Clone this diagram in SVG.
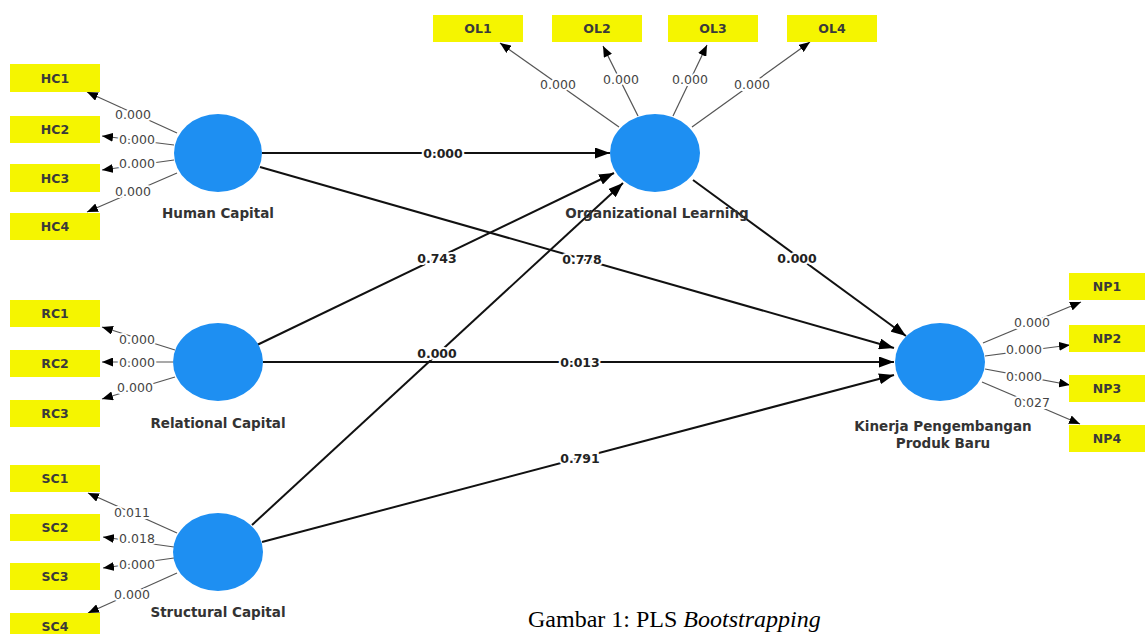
<svg xmlns="http://www.w3.org/2000/svg" width="1147" height="634" viewBox="0 0 1147 634">
<style>
.box{fill:#f5f500}
.bt{font-family:"DejaVu Sans",sans-serif;font-weight:bold;font-size:12.5px;fill:#3a3a3a;text-anchor:middle}
.lv{fill:#1e8ff2}
.nl{font-family:"DejaVu Sans",sans-serif;font-weight:bold;font-size:13.5px;fill:#333;text-anchor:middle}
.ol{stroke:#555;stroke-width:1.2;fill:none}
.il{stroke:#111;stroke-width:2;fill:none}
.ov{font-family:"DejaVu Sans",sans-serif;font-size:12.5px;fill:#444;text-anchor:middle;stroke:#fff;stroke-width:4;paint-order:stroke}
.iv{font-family:"DejaVu Sans",sans-serif;font-weight:bold;font-size:12.5px;fill:#222;text-anchor:middle;stroke:#fff;stroke-width:4;paint-order:stroke}
.cap{font-family:"Liberation Serif",serif;font-size:24px;fill:#000}
</style>
<defs>
<marker id="a1" markerUnits="userSpaceOnUse" markerWidth="11" markerHeight="9" refX="11" refY="4.5" orient="auto"><path d="M0,0 L11,4.5 L0,9 z" fill="#000"/></marker>
<marker id="a2" markerUnits="userSpaceOnUse" markerWidth="15" markerHeight="11" refX="15" refY="5.5" orient="auto"><path d="M0,0 L15,5.5 L0,11 z" fill="#000"/></marker>
</defs>

<g id="connectors">
<line class="ol" x1="177" y1="133" x2="87" y2="92" marker-end="url(#a1)"/>
<line class="ol" x1="174" y1="145" x2="102" y2="136" marker-end="url(#a1)"/>
<line class="ol" x1="174" y1="160" x2="102" y2="170" marker-end="url(#a1)"/>
<line class="ol" x1="177" y1="173" x2="87" y2="212" marker-end="url(#a1)"/>
<line class="ol" x1="175" y1="350" x2="102" y2="327" marker-end="url(#a1)"/>
<line class="ol" x1="173" y1="362" x2="102" y2="362" marker-end="url(#a1)"/>
<line class="ol" x1="175" y1="377" x2="102" y2="399" marker-end="url(#a1)"/>
<line class="ol" x1="177" y1="533" x2="88" y2="493" marker-end="url(#a1)"/>
<line class="ol" x1="174" y1="547" x2="103" y2="537" marker-end="url(#a1)"/>
<line class="ol" x1="174" y1="558" x2="103" y2="568" marker-end="url(#a1)"/>
<line class="ol" x1="177" y1="573" x2="88" y2="613" marker-end="url(#a1)"/>
<line class="ol" x1="619" y1="127" x2="500" y2="43" marker-end="url(#a1)"/>
<line class="ol" x1="638" y1="116" x2="603" y2="46" marker-end="url(#a1)"/>
<line class="ol" x1="673" y1="116" x2="707" y2="45" marker-end="url(#a1)"/>
<line class="ol" x1="692" y1="127" x2="810" y2="42" marker-end="url(#a1)"/>
<line class="ol" x1="983" y1="343" x2="1081" y2="302" marker-end="url(#a1)"/>
<line class="ol" x1="985" y1="356" x2="1070" y2="345" marker-end="url(#a1)"/>
<line class="ol" x1="985" y1="369" x2="1070" y2="385" marker-end="url(#a1)"/>
<line class="ol" x1="982" y1="382" x2="1080" y2="424" marker-end="url(#a1)"/>
<line class="il" x1="262" y1="153" x2="610" y2="153" marker-end="url(#a2)"/>
<line class="il" x1="260" y1="167" x2="894" y2="348" marker-end="url(#a2)"/>
<line class="il" x1="257" y1="345" x2="614" y2="173" marker-end="url(#a2)"/>
<line class="il" x1="252" y1="525" x2="623" y2="183" marker-end="url(#a2)"/>
<line class="il" x1="263" y1="362" x2="894" y2="362" marker-end="url(#a2)"/>
<line class="il" x1="262" y1="542" x2="894" y2="375" marker-end="url(#a2)"/>
<line class="il" x1="693" y1="180" x2="906" y2="336" marker-end="url(#a2)"/>
<text class="ov" x="133" y="119">0.000</text>
<text class="ov" x="137" y="144">0.000</text>
<text class="ov" x="137" y="168">0.000</text>
<text class="ov" x="133" y="196">0.000</text>
<text class="ov" x="137" y="344">0.000</text>
<text class="ov" x="137" y="367">0.000</text>
<text class="ov" x="135" y="392">0.000</text>
<text class="ov" x="132" y="517">0.011</text>
<text class="ov" x="137" y="543">0.018</text>
<text class="ov" x="137" y="569">0.000</text>
<text class="ov" x="132" y="599">0.000</text>
<text class="ov" x="558" y="89">0.000</text>
<text class="ov" x="621" y="84">0.000</text>
<text class="ov" x="690" y="84">0.000</text>
<text class="ov" x="752" y="89">0.000</text>
<text class="ov" x="1032" y="327">0.000</text>
<text class="ov" x="1024" y="354">0.000</text>
<text class="ov" x="1024" y="381">0.000</text>
<text class="ov" x="1032" y="407">0.027</text>
<text class="iv" x="443" y="158">0.000</text>
<text class="iv" x="582" y="264">0.778</text>
<text class="iv" x="437" y="263">0.743</text>
<text class="iv" x="437" y="358">0.000</text>
<text class="iv" x="580" y="367">0.013</text>
<text class="iv" x="580" y="463">0.791</text>
<text class="iv" x="797" y="263">0.000</text>
</g>

<g id="HC1"><rect class="box" x="10" y="64" width="90" height="28"/><text class="bt" x="55" y="83">HC1</text></g>
<g id="HC2"><rect class="box" x="10" y="116" width="90" height="27"/><text class="bt" x="55" y="134">HC2</text></g>
<g id="HC3"><rect class="box" x="10" y="164" width="90" height="28"/><text class="bt" x="55" y="183">HC3</text></g>
<g id="HC4"><rect class="box" x="10" y="213" width="90" height="27"/><text class="bt" x="55" y="231">HC4</text></g>
<g id="RC1"><rect class="box" x="10" y="300" width="90" height="27"/><text class="bt" x="55" y="318">RC1</text></g>
<g id="RC2"><rect class="box" x="10" y="350" width="90" height="27"/><text class="bt" x="55" y="368">RC2</text></g>
<g id="RC3"><rect class="box" x="10" y="400" width="90" height="27"/><text class="bt" x="55" y="418">RC3</text></g>
<g id="SC1"><rect class="box" x="10" y="465" width="90" height="27"/><text class="bt" x="55" y="483">SC1</text></g>
<g id="SC2"><rect class="box" x="10" y="514" width="90" height="27"/><text class="bt" x="55" y="532">SC2</text></g>
<g id="SC3"><rect class="box" x="10" y="563" width="90" height="27"/><text class="bt" x="55" y="581">SC3</text></g>
<g id="SC4"><rect class="box" x="10" y="613" width="90" height="27"/><text class="bt" x="55" y="631">SC4</text></g>
<g id="OL1"><rect class="box" x="433" y="15" width="90" height="27"/><text class="bt" x="478" y="33">OL1</text></g>
<g id="OL2"><rect class="box" x="552" y="15" width="90" height="27"/><text class="bt" x="597" y="33">OL2</text></g>
<g id="OL3"><rect class="box" x="668" y="15" width="90" height="27"/><text class="bt" x="713" y="33">OL3</text></g>
<g id="OL4"><rect class="box" x="787" y="15" width="90" height="27"/><text class="bt" x="832" y="33">OL4</text></g>
<g id="NP1"><rect class="box" x="1069" y="273" width="76" height="27"/><text class="bt" x="1107" y="291">NP1</text></g>
<g id="NP2"><rect class="box" x="1069" y="325" width="76" height="27"/><text class="bt" x="1107" y="343">NP2</text></g>
<g id="NP3"><rect class="box" x="1069" y="375" width="76" height="27"/><text class="bt" x="1107" y="393">NP3</text></g>
<g id="NP4"><rect class="box" x="1069" y="425" width="76" height="27"/><text class="bt" x="1107" y="443">NP4</text></g>

<g id="HumanCapital"><ellipse class="lv" cx="218" cy="153" rx="44" ry="39"/><text class="nl" x="218" y="218">Human Capital</text></g>
<g id="RelationalCapital"><ellipse class="lv" cx="218" cy="362" rx="45" ry="39"/><text class="nl" x="218" y="428">Relational Capital</text></g>
<g id="StructuralCapital"><ellipse class="lv" cx="218" cy="552" rx="45" ry="39"/><text class="nl" x="218" y="617">Structural Capital</text></g>
<g id="OrganizationalLearning"><ellipse class="lv" cx="655" cy="153" rx="45" ry="39"/><text class="nl" x="657" y="218">Organizational Learning</text></g>
<g id="KinerjaPengembanganProdukBaru"><ellipse class="lv" cx="940" cy="362" rx="45" ry="39"/><text class="nl" x="943" y="431">Kinerja Pengembangan</text><text class="nl" x="943" y="448">Produk Baru</text></g>

<text class="cap" x="528" y="627">Gambar 1: PLS <tspan font-style="italic">Bootstrapping</tspan></text>
</svg>
